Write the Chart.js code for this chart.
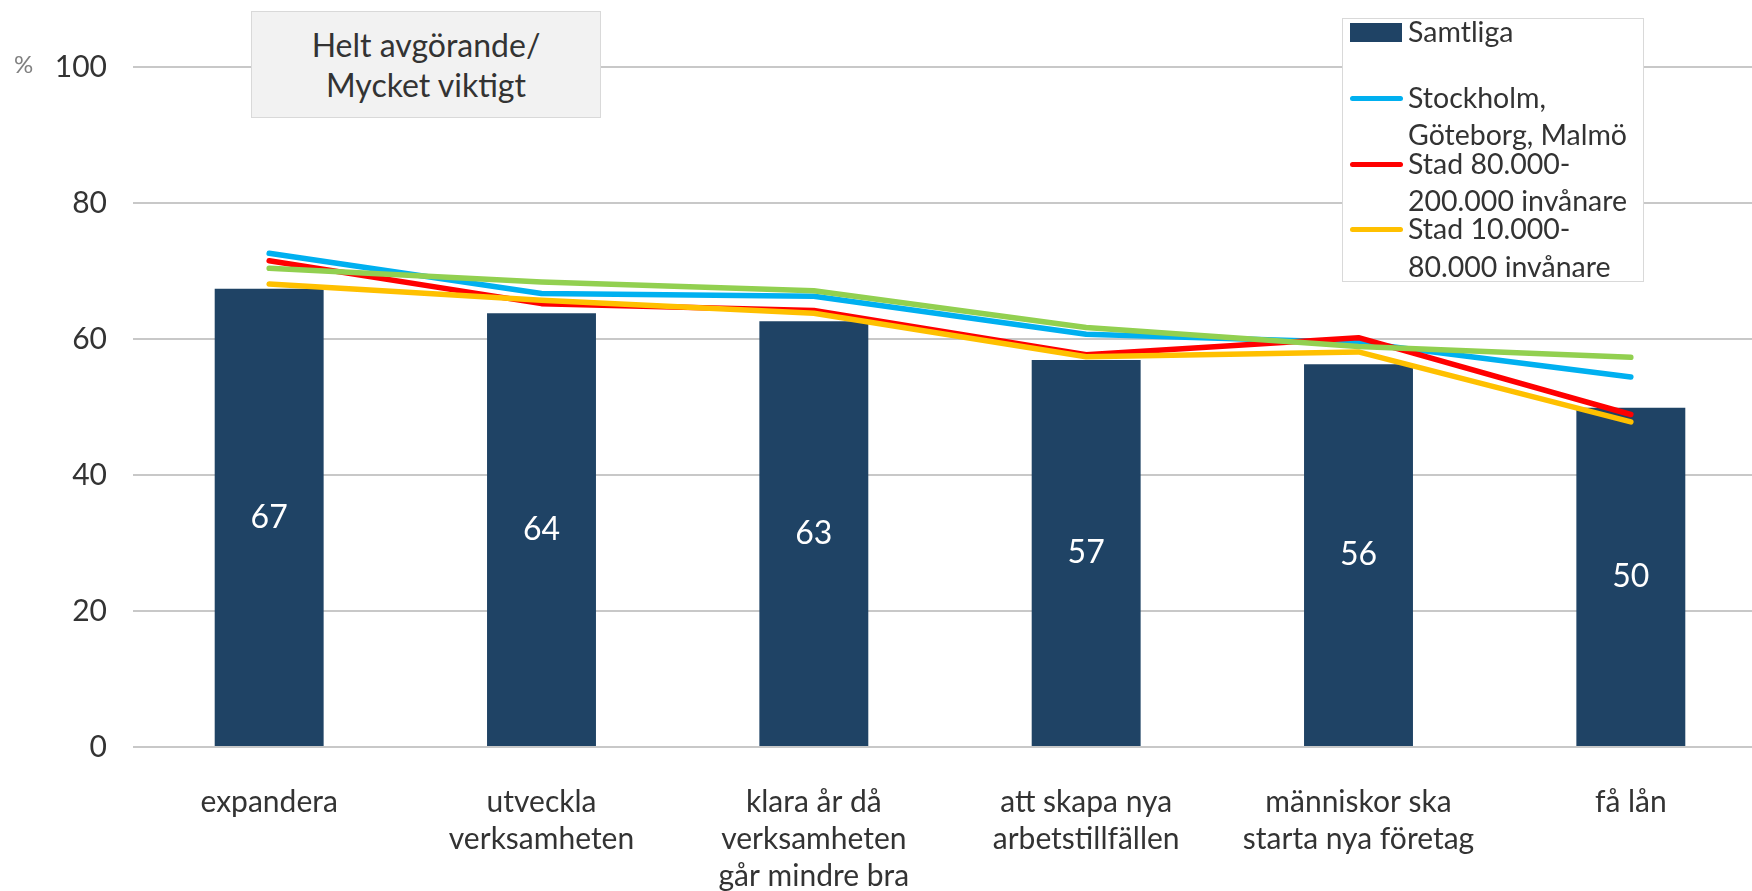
<!DOCTYPE html>
<html>
<head>
<meta charset="utf-8">
<script src="https://cdn.jsdelivr.net/npm/chart.js@4"></script>
<style>
  html, body { margin:0; padding:0; background:#fff; overflow:hidden; }
  #wrap { position:relative; width:1752px; height:891px; overflow:hidden; }
  #c { position:absolute; left:0; top:0; }
  .abs { position:absolute; white-space:nowrap; font-family:Lato, "Open Sans", sans-serif; color:#333; }
  #titlebox { position:absolute; left:251px; top:11px; width:350px; height:107px; box-sizing:border-box;
    background:#f2f2f2; border:1px solid #d9d9d9; }
  #legendbox { position:absolute; left:1342px; top:18px; width:302px; height:264px; box-sizing:border-box;
    background:#fff; border:1px solid #d9d9d9; }
</style>
</head>
<body>
<div id="wrap">
  <canvas id="c" width="1770" height="891"></canvas>
  <div id="titlebox"></div>
  <div id="legendbox"></div>
</div>
<script>
// ---- data ----
const categories = [
  "expandera",
  ["utveckla", "verksamheten"],
  ["klara år då", "verksamheten", "går mindre bra"],
  ["att skapa nya", "arbetstillfällen"],
  ["människor ska", "starta nya företag"],
  "få lån"
];
const samtliga  = [67.4, 63.8, 62.6, 56.9, 56.3, 49.9];
const storstad  = [72.6, 66.7, 66.3, 60.7, 59.5, 54.4];
const stad80    = [71.5, 65.2, 64.2, 57.7, 60.2, 48.9];
const stad10    = [68.1, 65.7, 63.8, 57.4, 58.1, 47.8];
const ovriga    = [70.4, 68.4, 67.1, 61.7, 58.9, 57.3];
const yTicks    = [0, 20, 40, 60, 80, 100];
const seriesNames = [
  ["Samtliga"],
  ["Stockholm,", "Göteborg, Malmö"],
  ["Stad 80.000-", "200.000 invånare"],
  ["Stad 10.000-", "80.000 invånare"],
  ["Övriga orter"]
];
const titleLines = ["Helt avgörande/", "Mycket viktigt"];
const unitLabel = "%";

// ---- styles ----
const colors = ["#1f4365", "#00b0f0", "#ff0000", "#ffc000", "#92d050"];
const FONT = "Lato, 'Open Sans', sans-serif";

const barLabels = {
  id: 'barLabels',
  afterDatasetsDraw(chart) {
    const meta = chart.getDatasetMeta(0);
    const ctx = chart.ctx;
    ctx.save();
    ctx.fillStyle = '#ffffff';
    ctx.font = '32px ' + FONT;
    ctx.textAlign = 'center';
    ctx.textBaseline = 'middle';
    meta.data.forEach((el, i) => {
      const v = chart.data.datasets[0].data[i];
      ctx.fillText(String(Math.round(v)), el.x, (el.y + el.base) / 2);
    });
    ctx.restore();
  }
};

const lineDs = (label, data, color, order) => ({
  type: 'line', label, data, borderColor: color, backgroundColor: color,
  borderWidth: 5.5, pointRadius: 0, tension: 0, fill: false,
  borderCapStyle: 'round', borderJoinStyle: 'round', order
});

const chart = new Chart(document.getElementById('c'), {
  data: {
    labels: categories,
    datasets: [
      { type: 'bar', label: seriesNames[0].join(' '), data: samtliga, backgroundColor: colors[0],
        categoryPercentage: 1.0, barPercentage: 0.4, order: 5 },
      lineDs(seriesNames[1].join(' '), storstad, colors[1], 4),
      lineDs(seriesNames[2].join(' '), stad80, colors[2], 3),
      lineDs(seriesNames[3].join(' '), stad10, colors[3], 2),
      lineDs(seriesNames[4].join(' '), ovriga, colors[4], 1)
    ]
  },
  options: {
    responsive: false,
    animation: false,
    layout: { padding: { left: 0, right: 3, top: 67, bottom: 0 } },
    plugins: { legend: { display: false }, tooltip: { enabled: false }, title: { display: false } },
    scales: {
      x: {
        offset: true,
        grid: { display: false },
        border: { display: false },
        ticks: { color: '#333333', font: { family: FONT, size: 30, lineHeight: 1.23 }, padding: 29,
                 maxRotation: 0, autoSkip: false },
        afterFit(s) { s.height = 144; }
      },
      y: {
        min: 0, max: 100,
        afterBuildTicks(s) { s.ticks = yTicks.map(v => ({ value: v })); },
        grid: { color: '#c8c8c8', lineWidth: 2, drawTicks: false },
        border: { display: false },
        ticks: { color: '#333333', font: { family: FONT, size: 30 }, padding: 26 },
        afterFit(s) { s.width = 133; }
      }
    }
  },
  plugins: [barLabels]
});

// ---- overlay texts ----
const wrap = document.getElementById('wrap');
function addText(txt, left, top, size, lh, color, extra) {
  const d = document.createElement('div');
  d.className = 'abs';
  d.textContent = txt;
  d.style.left = left + 'px';
  d.style.top = top + 'px';
  d.style.fontSize = size + 'px';
  d.style.lineHeight = lh + 'px';
  if (color) d.style.color = color;
  if (extra) Object.assign(d.style, extra);
  wrap.appendChild(d);
  return d;
}
// unit label
addText(unitLabel, 14, 48, 24, 32, '#808080');
// title box text (centered)
titleLines.forEach((t, i) => {
  addText(t, 251, 57.3 + i * 39.4 - 32.1, 32, 39.4, '#333', { width: '350px', textAlign: 'center' });
});
// legend (first four series)
for (let i = 0; i < 4; i++) {
  const base = 42.7 + i * 65.8;
  const m = document.createElement('div');
  m.style.position = 'absolute';
  m.style.left = '1350px';
  m.style.background = colors[i];
  if (i === 0) {
    m.style.top = '23.3px'; m.style.width = '52px'; m.style.height = '18.4px';
  } else {
    m.style.top = (base - 10.2 - 2.5) + 'px'; m.style.width = '53px'; m.style.height = '5px';
    m.style.borderRadius = '2.5px';
  }
  wrap.appendChild(m);
  seriesNames[i].forEach((line, j) => {
    addText(line, 1408, base + j * 37.2 - 29.7, 28.5, 37.4, '#333');
  });
}
</script>
</body>
</html>
